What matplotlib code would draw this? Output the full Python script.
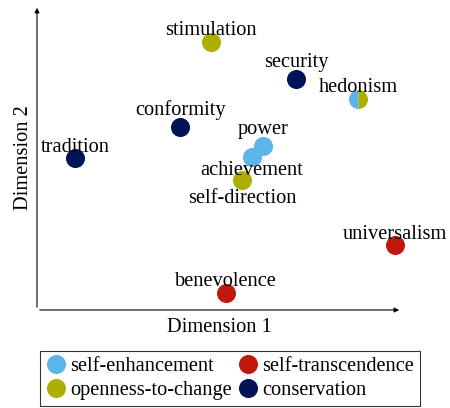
import matplotlib
matplotlib.use("Agg")
import matplotlib.pyplot as plt
from matplotlib.lines import Line2D

plt.rcParams['font.family'] = ['Liberation Serif', 'DejaVu Serif']

values = ['stimulation', 'security', 'hedonism', 'conformity', 'tradition',
          'power', 'achievement', 'self-direction', 'universalism', 'benevolence']
dim1 = [4.77, 7.10, 8.79, 3.92, 1.04, 6.19, 5.89, 5.62, 9.81, 5.18]
dim2 = [8.79, 7.57, 6.92, 6.00, 4.98, 5.38, 5.02, 4.26, 2.13, 0.56]
groups = ['openness-to-change', 'conservation', 'hedonism-mixed', 'conservation', 'conservation',
          'self-enhancement', 'self-enhancement', 'openness-to-change',
          'self-transcendence', 'self-transcendence']
label_below = {'achievement': -18, 'self-direction': -23}

legend_order = ['self-enhancement', 'openness-to-change', 'self-transcendence', 'conservation']
colors = {'self-enhancement': '#5DB4EA', 'openness-to-change': '#ADAE00',
          'self-transcendence': '#C0180C', 'conservation': '#001356'}

FS = 14.7
fig = plt.figure(figsize=(4.5, 4.08), dpi=100)
ax = fig.add_axes([37/450, 1-310/408, 365/450, 305/408])
ax.set_xlim(0, 10)
ax.set_ylim(0, 10)
for s in ax.spines.values():
    s.set_visible(False)
ax.set_xticks([])
ax.set_yticks([])

ax.annotate('', xy=(1, 0), xytext=(0, 0), xycoords='axes fraction',
            arrowprops=dict(arrowstyle='-|>', color='black', lw=0.8, mutation_scale=7))
ax.annotate('', xy=(0, 1), xytext=(0, 0), xycoords='axes fraction',
            arrowprops=dict(arrowstyle='-|>', color='black', lw=0.8, mutation_scale=7))

ms = 13.7
for name, x, y, g in zip(values, dim1, dim2, groups):
    if g == 'hedonism-mixed':
        ax.plot([x], [y], 'o', ms=ms, fillstyle='left',
                markerfacecolor=colors['self-enhancement'],
                markerfacecoloralt=colors['openness-to-change'],
                markeredgewidth=0, clip_on=False, zorder=3)
    else:
        ax.plot([x], [y], 'o', ms=ms, color=colors[g], markeredgewidth=0,
                clip_on=False, zorder=3)
    if name in label_below:
        off = label_below[name]
    elif any(c in name for c in 'gjpqy'):
        off = 12
    else:
        off = 6.5
    ax.annotate(name, (x, y), xytext=(0, off), textcoords='offset pixels',
                ha='center', va='baseline', fontsize=FS, zorder=4,
                annotation_clip=False)

fig.text(219.5/450, 1-327.5/408, 'Dimension 1', ha='center', va='center', fontsize=FS)
fig.text(24/450, 1-158/408, 'Dimension 2', ha='center', va='center', fontsize=FS,
         rotation=90)

handles = [Line2D([], [], marker='o', ls='', ms=ms, color=colors[g], markeredgewidth=0)
           for g in legend_order]
leg = fig.legend(handles, legend_order, loc='center', ncol=2,
                 bbox_to_anchor=(230/450, 1-378.5/408), fontsize=FS,
                 frameon=True, fancybox=False, edgecolor='black',
                 handlelength=1.0, handletextpad=0.2, columnspacing=0.3,
                 labelspacing=0.2, borderpad=0.3, borderaxespad=0)
leg.get_frame().set_linewidth(0.8)

fig.savefig('out.png', dpi=100)
